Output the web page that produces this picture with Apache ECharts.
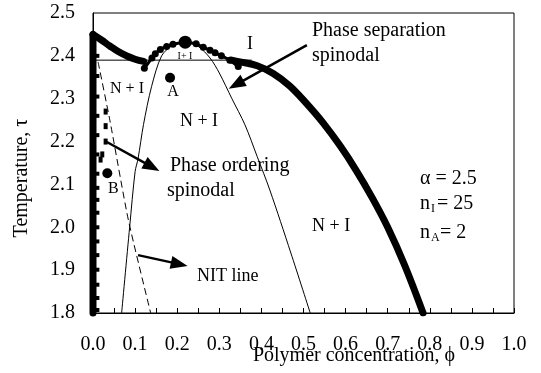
<!DOCTYPE html>
<html>
<head>
<meta charset="utf-8">
<script src="https://cdn.jsdelivr.net/npm/echarts@6/dist/echarts.min.js"></script>
<style>
  html, body { margin: 0; padding: 0; background: #fff; }
  #main { width: 541px; height: 373px; }
</style>
</head>
<body>
<div id="main"></div>
<script>
  // phase diagram, temperature tau vs polymer concentration phi
  const FONT = '"Liberation Serif", "Times New Roman", serif'

  // thick phase separation spinodal
  const spinodalAxis = [[0, 1.8], [0, 2.45]]
  const spinodalLeft = [[0, 2.45], [0.02, 2.437], [0.04, 2.423], [0.06, 2.41], [0.08, 2.4], [0.1, 2.392], [0.12, 2.387]]
  const spinodalRight = [[0.329, 2.39], [0.349, 2.386], [0.39, 2.377], [0.428, 2.359], [0.467, 2.33], [0.507, 2.289],
    [0.547, 2.243], [0.587, 2.19], [0.625, 2.133], [0.662, 2.071], [0.7, 2.0], [0.74, 1.912], [0.784, 1.8]]
  // beaded I+I boundary
  const coexist = [[0.122, 2.371], [0.14, 2.395], [0.148, 2.405], [0.16, 2.415], [0.175, 2.422], [0.19, 2.427],
    [0.219, 2.432], [0.245, 2.428], [0.262, 2.42], [0.278, 2.413], [0.29, 2.407], [0.305, 2.4], [0.325, 2.39], [0.345, 2.375]]
  // thin curve under the peak
  const binodal = [[0.068, 1.8], [0.087, 2.0], [0.1, 2.13], [0.107, 2.16], [0.12, 2.24], [0.139, 2.328], [0.163, 2.4],
    [0.19, 2.425], [0.219, 2.432], [0.25, 2.422], [0.278, 2.395], [0.3, 2.36], [0.33, 2.3], [0.361, 2.239],
    [0.39, 2.165], [0.42, 2.087], [0.47, 1.94], [0.516, 1.8]]
  const nitLine = [[0.012, 2.386], [0.04, 2.25], [0.084, 2.017], [0.137, 1.8]]
  const nitLevel = [[0, 2.39], [0.377, 2.39]]
  // phase ordering spinodal points
  const orderingAxis = [[0.008, 2.4], [0.008, 2.353], [0.008, 2.305], [0.008, 2.26], [0.008, 2.215], [0.008, 2.17],
    [0.008, 2.125], [0.008, 2.092], [0.008, 2.064], [0.008, 2.034], [0.008, 2.0], [0.008, 1.967], [0.008, 1.935],
    [0.008, 1.901], [0.008, 1.866], [0.008, 1.835], [0.008, 1.807]]
  const orderingBranch = [[0.03, 2.27], [0.03, 2.236], [0.03, 2.2], [0.022, 2.17], [0.018, 2.158]]
  const pointA = [0.183, 2.349]
  const pointB = [0.034, 2.126]
  const critical = [0.219, 2.432]
  // annotation arrows: [from, to]
  const arrows = [
    [[0.508, 2.425], [0.34, 2.333]],
    [[0.033, 2.199], [0.14, 2.141]],
    [[0.107, 1.935], [0.205, 1.914]]
  ]

  const chart = echarts.init(document.getElementById('main'))

  function txt (x, y, text, size, align) {
    return {
      type: 'text', x: x, y: y, z: 100,
      style: { text: text, fill: '#000', font: size + 'px ' + FONT, align: align || 'left', verticalAlign: 'middle' }
    }
  }

  const black = { color: '#000', opacity: 1 }

  const option = {
    backgroundColor: '#fff',
    animation: false,
    grid: { left: 93, top: 13, right: 27, bottom: 60, show: true, borderColor: '#000', borderWidth: 1 },
    xAxis: {
      type: 'value', min: 0, max: 1, interval: 0.05,
      axisLine: { lineStyle: { color: '#000', width: 1 } },
      axisTick: { inside: true, length: 5, lineStyle: { color: '#000' } },
      axisLabel: {
        margin: 22, color: '#000', fontFamily: FONT, fontSize: 20,
        formatter: (v) => (Math.round(v * 100) % 10 === 0 ? v.toFixed(1) : '')
      },
      splitLine: { show: false }
    },
    yAxis: {
      type: 'value', min: 1.8, max: 2.5, interval: 0.1,
      axisLine: { show: true, lineStyle: { color: '#000' } },
      axisTick: { show: false },
      axisLabel: { margin: 18, color: '#000', fontFamily: FONT, fontSize: 20, formatter: (v) => v.toFixed(1) },
      splitLine: { show: false }
    },
    series: [
      { type: 'line', data: binodal, smooth: 0.3, showSymbol: false, lineStyle: { color: '#000', width: 1 } },
      { type: 'line', data: nitLevel, showSymbol: false, lineStyle: { color: '#000', width: 1 } },
      { type: 'line', data: nitLine, smooth: 0.2, showSymbol: false, lineStyle: { color: '#000', width: 1, type: [7, 4] } },
      { type: 'line', data: spinodalAxis, showSymbol: false, clip: false, lineStyle: { color: '#000', width: 7, cap: 'round' } },
      { type: 'line', data: spinodalLeft, smooth: 0.4, showSymbol: false, clip: false, lineStyle: { color: '#000', width: 7, cap: 'round', join: 'round' } },
      { type: 'line', data: spinodalRight, smooth: 0.4, showSymbol: false, lineStyle: { color: '#000', width: 7, cap: 'round', join: 'round' } },
      {
        type: 'line', data: coexist, smooth: 0.3, symbol: 'circle', symbolSize: 7, showAllSymbol: true,
        itemStyle: black, lineStyle: { color: '#000', width: 3 }
      },
      { type: 'scatter', data: orderingAxis, symbol: 'rect', symbolSize: [6, 4], itemStyle: black },
      { type: 'scatter', data: orderingBranch, symbol: 'rect', symbolSize: [4, 6], itemStyle: black },
      { type: 'scatter', data: [pointA, pointB], symbol: 'circle', symbolSize: 10, itemStyle: black },
      { type: 'scatter', data: [critical], symbol: 'circle', symbolSize: 13, itemStyle: black },
      {
        type: 'line', data: [],
        markLine: {
          silent: true, symbol: ['none', 'triangle'], symbolSize: [13, 17],
          label: { show: false },
          lineStyle: { color: '#000', width: 2.5, type: 'solid' },
          data: arrows.map(a => [{ coord: a[0] }, { coord: a[1] }])
        }
      }
    ],
    graphic: [
      txt(312, 31, 'Phase separation', 20),
      txt(312, 56, 'spinodal', 20),
      txt(250, 44, 'I', 18, 'center'),
      txt(185, 56, 'I+ I', 10, 'center'),
      txt(127, 89, 'N + I', 16, 'center'),
      txt(173, 92, 'A', 16, 'center'),
      txt(199, 121, 'N + I', 18, 'center'),
      txt(170, 166, 'Phase ordering', 20),
      txt(167, 191, 'spinodal', 20),
      txt(108, 189, 'B', 16),
      txt(197, 276, 'NIT line', 18),
      txt(312, 226, 'N + I', 18),
      txt(420, 179, 'α = 2.5', 20),
      txt(420, 204, 'n', 20),
      txt(431, 209, 'I', 12),
      txt(437, 204, '= 25', 20),
      txt(420, 233, 'n', 20),
      txt(431, 238, 'A', 12),
      txt(440, 233, '= 2', 20),
      txt(354, 356, 'Polymer concentration, ϕ', 20, 'center'),
      Object.assign(txt(22, 178, 'Temperature, τ', 20, 'center'), { rotation: Math.PI / 2 })
    ]
  }

  chart.setOption(option)
</script>
</body>
</html>
